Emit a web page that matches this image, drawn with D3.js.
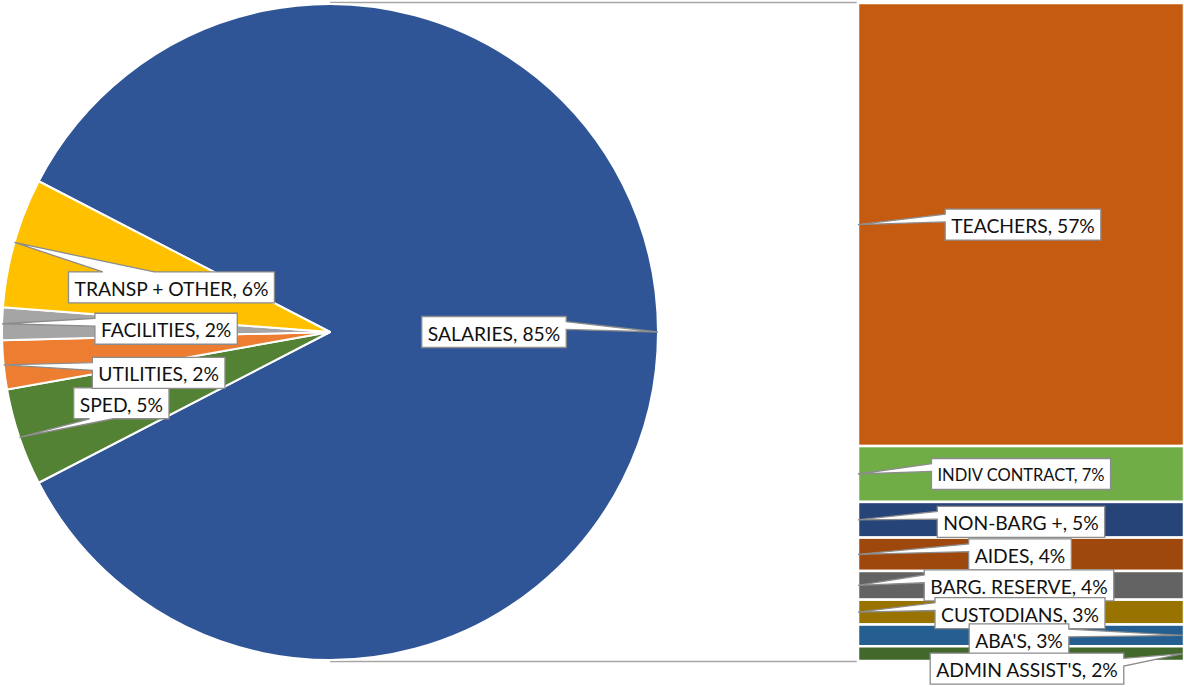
<!DOCTYPE html>
<html>
<head>
<meta charset="utf-8">
<script src="https://cdn.jsdelivr.net/npm/d3@7"></script>
<style>
  html, body { margin: 0; padding: 0; background: #fff; }
  svg { display: block; }
</style>
</head>
<body>
<svg id="chart" width="1184" height="687"></svg>
<script>
// ---- data ----
const pieCategories = ["SALARIES", "SPED", "UTILITIES", "FACILITIES", "TRANSP + OTHER"];
const pieOtherValues = [4.8, 2.4, 1.6, 6.4]; // SPED, UTILITIES, FACILITIES, TRANSP + OTHER
const barCategories = ["TEACHERS", "INDIV CONTRACT", "NON-BARG +", "AIDES", "BARG. RESERVE", "CUSTODIANS", "ABA'S", "ADMIN ASSIST'S"];
const barValues = [57.1, 7.2, 4.6, 4.3, 3.7, 3.2, 2.8, 1.9];

const pieColors = ["#2F5597", "#548235", "#ED7D31", "#A5A5A5", "#FFC000"];
const barColors = ["#C55A11", "#70AD47", "#264478", "#9E480E", "#636363", "#997300", "#255E91", "#43682B"];

// label placement: offset of label box centre from the anchor point
const labelLayout = {
  "SALARIES": { dx: -164, dy: 0 },
  "TRANSP + OTHER": { dx: 157, dy: 45, side: "top" },
  "FACILITIES": { dx: 164, dy: 5 },
  "UTILITIES": { dx: 155, dy: 8 },
  "SPED": { dx: 102, dy: -34, side: "bottom" },
  "TEACHERS": { dx: 165, dy: 0 },
  "INDIV CONTRACT": { dx: 163, dy: 0, size: 16.5 },
  "NON-BARG +": { dx: 163, dy: 2 },
  "AIDES": { dx: 162, dy: 0 },
  "BARG. RESERVE": { dx: 161, dy: 0 },
  "CUSTODIANS": { dx: 162, dy: 1 },
  "ABA'S": { dx: -164, dy: 4, anchor: "right" },
  "ADMIN ASSIST'S": { dx: -156, dy: 15, anchor: "right" }
};

// ---- layout ----
const svg = d3.select("#chart");
const cx = 330, cy = 332, r = 328;
const barX0 = 858, barX1 = 1184;
const total = d3.sum(barValues) + d3.sum(pieOtherValues);
const pieValues = [d3.sum(barValues), ...pieOtherValues];
const pieData = pieCategories.map((c, i) => ({ cat: c, value: pieValues[i], color: pieColors[i] }));

const salFrac = pieValues[0] / total;
const start = Math.PI / 2 - salFrac * Math.PI;
const pie = d3.pie().sort(null).value(d => d.value).startAngle(start).endAngle(start + 2 * Math.PI);
const arcs = pie(pieData);
const arc = d3.arc().innerRadius(0).outerRadius(r);

// series lines
const yScale = d3.scaleLinear().domain([0, d3.sum(barValues)]).range([cy - r - 1, cy + r + 1]);
svg.append("line").attr("x1", cx).attr("x2", barX0 - 1).attr("y1", yScale(0) - 0.5).attr("y2", yScale(0) - 0.5)
  .attr("stroke", "#A6A6A6").attr("stroke-width", 1.5);
svg.append("line").attr("x1", cx).attr("x2", barX0 - 1).attr("y1", yScale.range()[1] + 0.5).attr("y2", yScale.range()[1] + 0.5)
  .attr("stroke", "#A6A6A6").attr("stroke-width", 1.5);

const gPie = svg.append("g").attr("transform", `translate(${cx},${cy})`);
gPie.selectAll("path").data(arcs).join("path")
  .attr("d", arc)
  .attr("fill", d => d.data.color)
  .attr("stroke", "#fff").attr("stroke-width", 2).attr("stroke-linejoin", "round");

// bar of pie
const stack = [];
let acc = 0;
barCategories.forEach((c, i) => { stack.push({ cat: c, y0: acc, y1: acc + barValues[i], value: barValues[i], color: barColors[i] }); acc += barValues[i]; });
svg.append("g").selectAll("rect").data(stack).join("rect")
  .attr("x", barX0).attr("width", barX1 - barX0)
  .attr("y", d => yScale(d.y0)).attr("height", d => yScale(d.y1) - yScale(d.y0))
  .attr("fill", d => d.color)
  .attr("stroke", "#fff").attr("stroke-width", 2.5);

// ---- labels ----
const labels = [];
arcs.forEach(a => {
  const mid = (a.startAngle + a.endAngle) / 2;
  labels.push({ cat: a.data.cat, value: a.data.value, ax: cx + r * Math.sin(mid), ay: cy - r * Math.cos(mid) });
});
stack.forEach(s => {
  const lay = labelLayout[s.cat];
  const ax = lay.anchor === "right" ? barX1 - 1 : barX0;
  labels.push({ cat: s.cat, value: s.value, ax, ay: (yScale(s.y0) + yScale(s.y1)) / 2 });
});

function calloutPath(px, py, x, y, w, h, side) {
  const dxPos = px - (x + w / 2), dyPos = py - (y + h / 2);
  if (!side) side = Math.abs(dxPos) / w > Math.abs(dyPos) / h ? (dxPos < 0 ? "left" : "right") : (dyPos < 0 ? "top" : "bottom");
  const y1 = y + h * (dyPos > 0 ? 7 : 2) / 12, y2 = y + h * (dyPos > 0 ? 10 : 5) / 12;
  const x1 = x + w * (dxPos > 0 ? 7 : 2) / 12, x2 = x + w * (dxPos > 0 ? 10 : 5) / 12;
  const p = d3.path();
  if (side === "left") {
    p.moveTo(x, y); p.lineTo(x + w, y); p.lineTo(x + w, y + h); p.lineTo(x, y + h);
    p.lineTo(x, y2); p.lineTo(px, py); p.lineTo(x, y1); p.closePath();
  } else if (side === "right") {
    p.moveTo(x, y); p.lineTo(x + w, y); p.lineTo(x + w, y1); p.lineTo(px, py); p.lineTo(x + w, y2);
    p.lineTo(x + w, y + h); p.lineTo(x, y + h); p.closePath();
  } else if (side === "top") {
    p.moveTo(x, y); p.lineTo(x1, y); p.lineTo(px, py); p.lineTo(x2, y); p.lineTo(x + w, y);
    p.lineTo(x + w, y + h); p.lineTo(x, y + h); p.closePath();
  } else {
    p.moveTo(x, y); p.lineTo(x + w, y); p.lineTo(x + w, y + h); p.lineTo(x2, y + h); p.lineTo(px, py);
    p.lineTo(x1, y + h); p.lineTo(x, y + h); p.closePath();
  }
  return p.toString();
}

const gLab = svg.append("g");
labels.forEach(l => {
  const lay = labelLayout[l.cat];
  const size = lay.size || 19.3;
  const g = gLab.append("g");
  const path = g.append("path");
  const t = g.append("text")
    .attr("font-family", "Lato, 'Open Sans', sans-serif")
    .attr("font-size", size)
    .attr("fill", "#111")
    .attr("text-anchor", "middle")
    .attr("dominant-baseline", "central")
    .text(`${l.cat}, ${Math.round(l.value)}%`);
  const tw = t.node().getComputedTextLength();
  const w = tw + 12, h = 31;
  const bx = l.ax + lay.dx - w / 2, by = l.ay + lay.dy - h / 2;
  t.attr("x", l.ax + lay.dx).attr("y", l.ay + lay.dy + 1);
  path.attr("d", calloutPath(l.ax, l.ay, bx, by, w, h, lay.side))
    .attr("fill", "#fff").attr("stroke", "#8C8C8C").attr("stroke-width", 1.3).attr("stroke-linejoin", "miter");
});
</script>
</body>
</html>
